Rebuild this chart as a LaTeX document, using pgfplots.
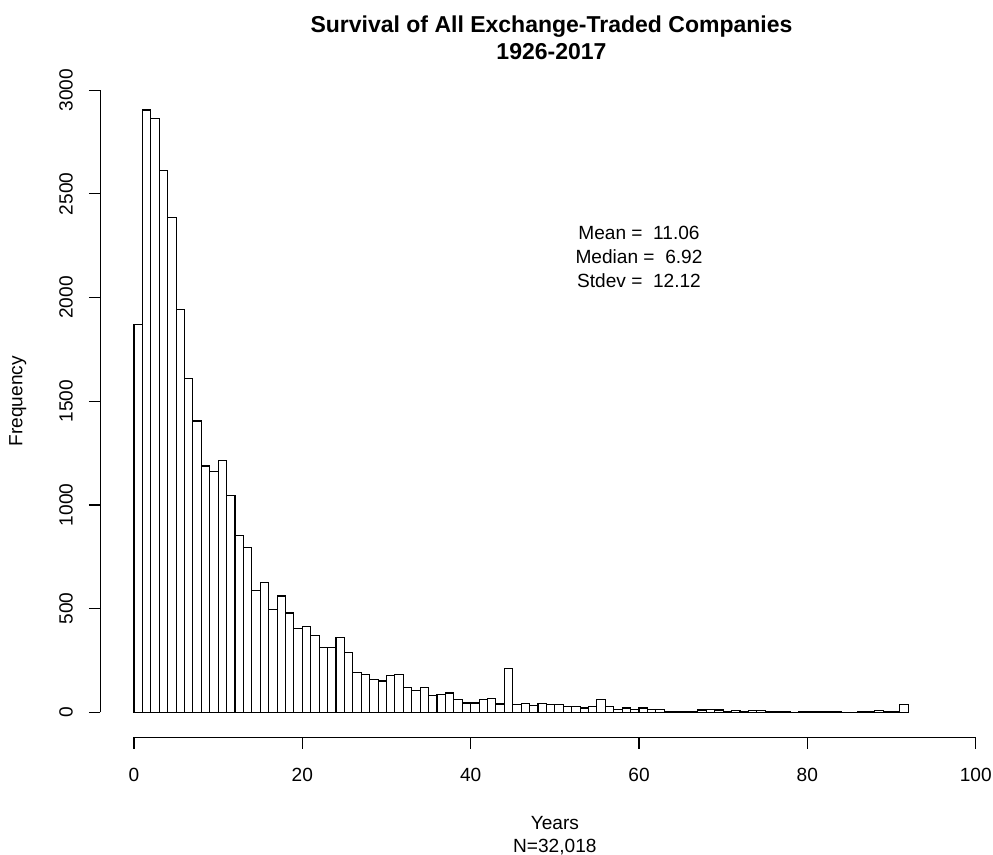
\documentclass[border=0pt]{standalone}
\usepackage{fontspec}
\setmainfont{Liberation Sans}
\usepackage{pgfplots}
\pgfplotsset{compat=1.18}
\begin{document}
\begin{tikzpicture}[font=\fontsize{9.55pt}{11.5pt}\selectfont]
\path[use as bounding box] (-50.15pt,-58.9pt) rectangle (446.35pt,368.6pt);
\begin{axis}[
  at={(0,0)}, anchor=south west,
  scale only axis, width=437.7pt, height=335.9pt,
  xmin=-4, xmax=100, ymin=-120, ymax=3120,
  axis line style={draw=none},
  clip=false,
  xtick={0,20,...,100}, ytick={0,500,...,3000},
  tick pos=left,
  tick align=outside,
  major tick length=5.7pt,
  tick style={black, line width=0.55pt},
  /pgf/number format/assume math mode=true,
  /pgf/number format/1000 sep={},
  ticklabel style={font=\fontsize{9.55pt}{11.5pt}\selectfont},
  xticklabel style={anchor=base, yshift=-16.55pt},
  yticklabel style={anchor=base, xshift=-8.1pt, rotate=90},
]
\addplot[ybar interval, fill=white, draw=black, line width=0.55pt] coordinates {
(0,1870) (1,2905) (2,2866) (3,2612) (4,2385) (5,1942) (6,1610) (7,1405) (8,1188) (9,1162)
(10,1215) (11,1046) (12,851) (13,793) (14,589) (15,628) (16,494) (17,561) (18,479) (19,403)
(20,412) (21,370) (22,311) (23,311) (24,362) (25,288) (26,193) (27,184) (28,158) (29,151)
(30,177) (31,184) (32,121) (33,105) (34,121) (35,79) (36,84) (37,93) (38,61) (39,45)
(40,45) (41,61) (42,68) (43,40) (44,211) (45,37) (46,42) (47,31) (48,42) (49,37)
(50,37) (51,27) (52,27) (53,21) (54,27) (55,61) (56,27) (57,15) (58,21) (59,15)
(60,21) (61,15) (62,15) (63,5) (64,5) (65,5) (66,5) (67,11) (68,15) (69,11)
(70,4) (71,10) (72,3) (73,10) (74,10) (75,3) (76,5) (77,5) (78,1) (79,5)
(80,5) (81,3) (82,5) (83,5) (84,1) (85,1) (86,2) (87,3) (88,10) (89,5)
(90,3) (91,37) (92,0)
};
\draw[line width=0.55pt] (axis cs:0,-120) -- (axis cs:100,-120);
\draw[line width=0.55pt] (axis cs:-4,0) -- (axis cs:-4,3000);
\node[anchor=base, yshift=352.35pt, font=\bfseries\fontsize{11.5pt}{13.8pt}\selectfont] at (axis cs:49.6,-120) {Survival of All Exchange-Traded Companies};
\node[anchor=base, yshift=338.6pt, font=\bfseries\fontsize{11.5pt}{13.8pt}\selectfont] at (axis cs:49.6,-120) {1926-2017};
\node[anchor=base] at (axis cs:60,2281) {Mean =\ \ 11.06};
\node[anchor=base] at (axis cs:60,2165) {Median =\ \ 6.92};
\node[anchor=base] at (axis cs:60,2051) {Stdev =\ \ 12.12};
\node[anchor=base, yshift=-46.4pt] at (axis cs:50,-120) {Years};
\node[anchor=base, yshift=-57.9pt] at (axis cs:50,-120) {N=32,018};
\node[anchor=base, xshift=-38.9pt, rotate=90] at (axis cs:-4,1500) {Frequency};
\end{axis}
\end{tikzpicture}
\end{document}
